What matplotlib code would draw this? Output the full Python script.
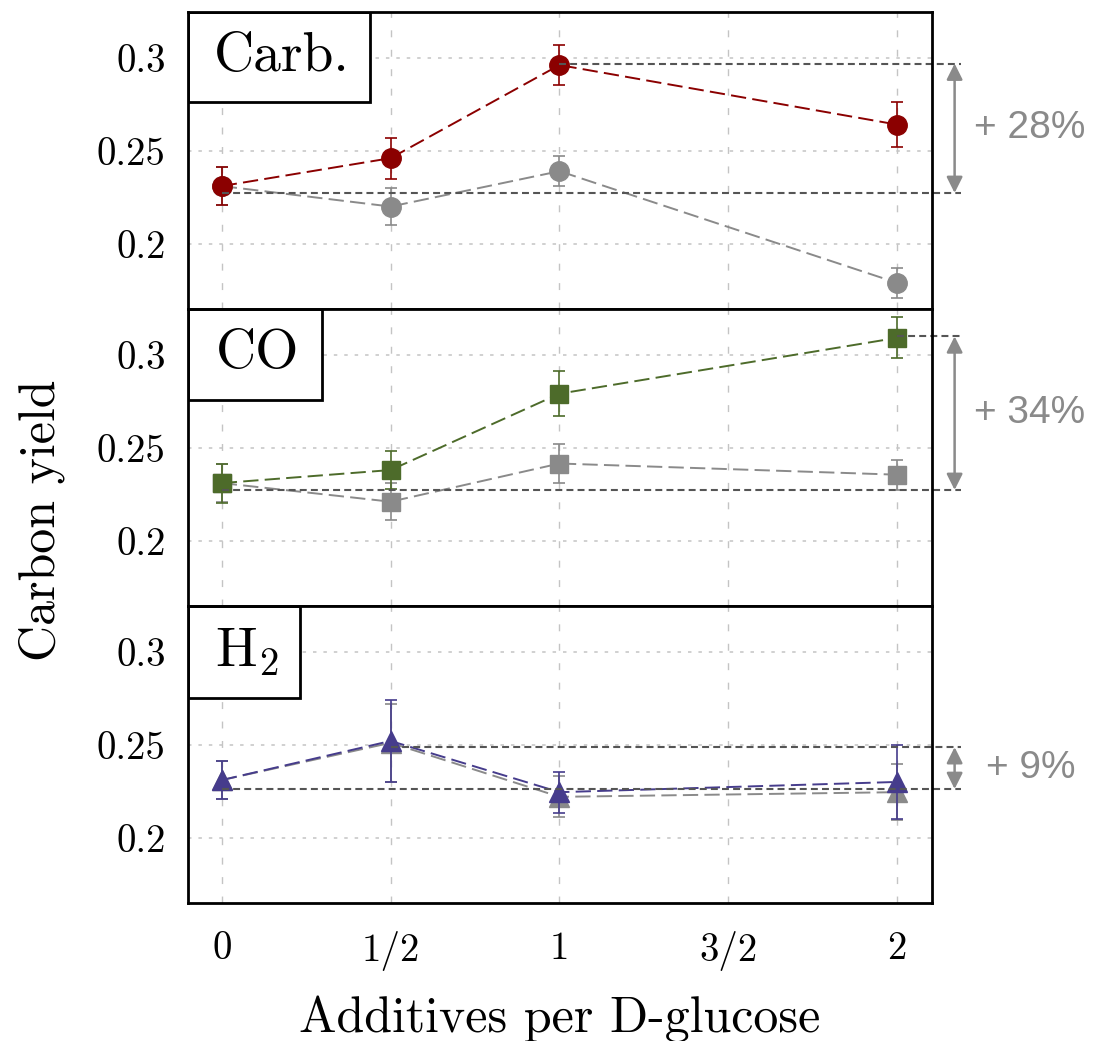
import numpy as np
import matplotlib
matplotlib.use("Agg")
import matplotlib.pyplot as plt
from matplotlib.patches import Rectangle

plt.rcParams['font.family'] = 'cmr10'
plt.rcParams['mathtext.fontset'] = 'cm'
plt.rcParams['axes.formatter.use_mathtext'] = True
plt.rcParams['lines.scale_dashes'] = False

# additives per D-glucose
x = [0, 0.5, 1, 2]
xticks = [0, 0.5, 1, 1.5, 2]
xticklabels = ['0', '1/2', '1', '3/2', '2']
yticks = [0.2, 0.25, 0.3]
yticklabels = ['0.2', '0.25', '0.3']

# carbon yields: with additive (colour) and reference (gray)
carb = [0.231, 0.246, 0.296, 0.264]
carb_err = [0.010, 0.011, 0.0105, 0.012]
carb_ref = [0.231, 0.220, 0.239, 0.179]
carb_ref_err = [0.010, 0.010, 0.008, 0.008]

co = [0.231, 0.238, 0.279, 0.309]
co_err = [0.0105, 0.010, 0.012, 0.011]
co_ref = [0.231, 0.221, 0.2415, 0.2355]
co_ref_err = [0.010, 0.010, 0.0105, 0.008]

h2 = [0.231, 0.252, 0.2245, 0.230]
h2_err = [0.010, 0.022, 0.011, 0.020]
h2_ref = [0.231, 0.251, 0.222, 0.2245]
h2_ref_err = [0.010, 0.021, 0.011, 0.015]

# dashed guide levels and the relative gain between them
carb_levels = [0.2273, 0.2968]
co_levels = [0.2273, 0.3098]
h2_levels = [0.2262, 0.2487]
gains = ['+ 28%', '+ 34%', '+ 9%']
labels = ['Carb.', 'CO', r'H$_2$']

red = '#8b0000'
green = '#4d6b2a'
blue = '#463c8c'
gray = '#8a8a8a'

fig = plt.figure(figsize=(10.93, 10.41), dpi=100)
left, width, height = 0.172, 0.681, 0.2853
bottoms = [0.7032, 0.4179, 0.1326]
# label box sizes in axes fraction (width, height)
boxes = [(0.2446, 0.303), (0.180, 0.306), (0.1505, 0.31)]

panels = [
    (carb, carb_err, carb_ref, carb_ref_err, red, 'o', 14, carb_levels, 2),
    (co, co_err, co_ref, co_ref_err, green, 's', 12.5, co_levels, 3),
    (h2, h2_err, h2_ref, h2_ref_err, blue, '^', 14, h2_levels, 1),
]

for i, (y, ye, yr, yre, col, mk, ms, lev, top_idx) in enumerate(panels):
    ax = fig.add_axes([left, bottoms[i], width, height])
    ax.set_xlim(-0.1, 2.104)
    ax.set_ylim(0.165, 0.3245)

    # grid
    for xt in xticks:
        ax.axvline(xt, color='#c4c4c4', lw=1, dashes=(5, 9), zorder=0)
    for yt in yticks:
        ax.axhline(yt, color='#c4c4c4', lw=1.1, dashes=(2.5, 5), zorder=0)

    # reference series, then additive series on top
    ax.errorbar(x, yr, yerr=yre, color=gray, marker=mk, ms=ms, lw=1.4,
                dashes=(11, 4.5), capsize=4.5, elinewidth=1.2, capthick=1.2,
                zorder=2)
    ax.errorbar(x, y, yerr=ye, color=col, marker=mk, ms=ms, lw=1.4,
                dashes=(11, 4.5), capsize=4.5, elinewidth=1.2, capthick=1.2,
                zorder=3)

    # guide lines running out past the right spine
    ax.plot([0, 2.19], [lev[0], lev[0]], color='#555555', lw=1.5,
            dashes=(5, 3), clip_on=False, zorder=4)
    ax.plot([x[top_idx], 2.19], [lev[1], lev[1]], color='#555555', lw=1.5,
            dashes=(5, 3), clip_on=False, zorder=4)
    ax.annotate('', xy=(2.17, lev[1]), xytext=(2.17, lev[0]),
                xycoords='data', textcoords='data', annotation_clip=False,
                arrowprops=dict(arrowstyle='<|-|>', color=gray, lw=1.8,
                                mutation_scale=24, shrinkA=0, shrinkB=0))
    ax.text(2.228 if i < 2 else 2.262, np.mean(lev), gains[i],
            family='Liberation Sans', fontsize=28, color=gray,
            ha='left', va='center', clip_on=False)

    # panel name in a framed box at the top-left corner
    bw, bh = boxes[i]
    ax.add_patch(Rectangle((0, 1 - bh), bw, bh, transform=ax.transAxes,
                           fc='white', ec='black', lw=2, zorder=5))
    ax.text(bw / 2 + 0.004, 1 - bh / 2, labels[i], transform=ax.transAxes,
            fontsize=40, ha='center', va='center', zorder=6)

    ax.set_yticks(yticks)
    ax.set_yticklabels(yticklabels)
    ax.set_xticks(xticks)
    ax.tick_params(axis='both', length=0, labelsize=28)
    ax.tick_params(axis='y', pad=16)
    ax.tick_params(axis='x', pad=20)
    for s in ax.spines.values():
        s.set_linewidth(2)
        s.set_zorder(7)
    if i < 2:
        ax.tick_params(axis='x', labelbottom=False)
    else:
        ax.set_xticklabels(xticklabels)
        ax.set_xlabel('Additives per D-glucose', fontsize=36, labelpad=18)

fig.text(0.038, 0.5, 'Carbon yield', rotation=90, fontsize=36,
         ha='center', va='center')

fig.savefig('out.png', dpi=100)
